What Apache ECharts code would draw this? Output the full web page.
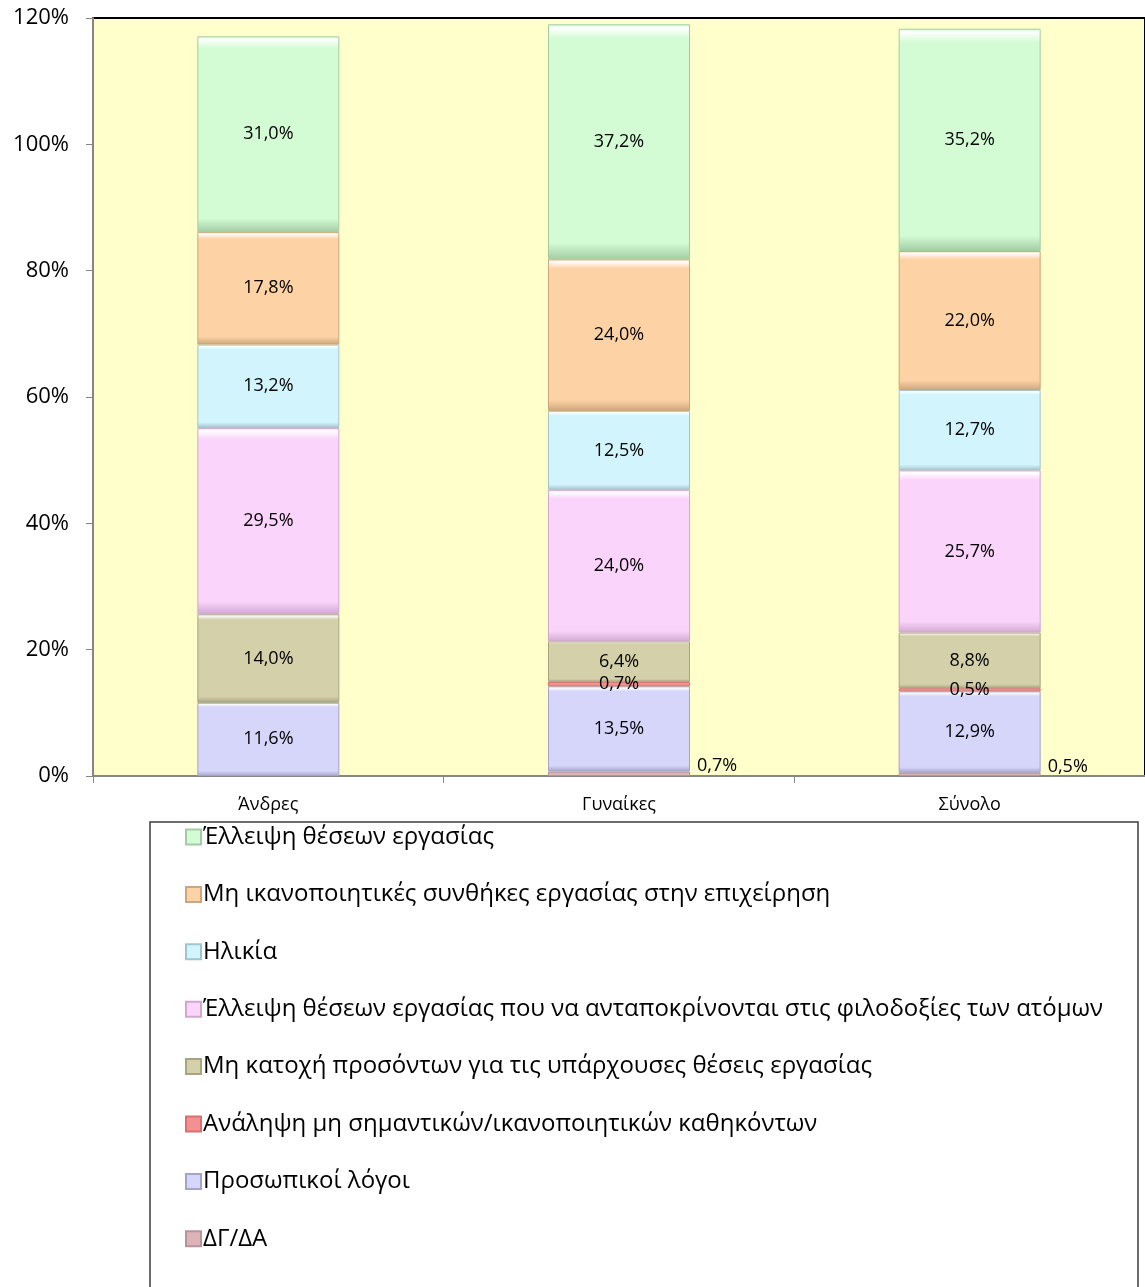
<!DOCTYPE html>
<html>
<head>
<meta charset="utf-8">
<script src="https://cdn.jsdelivr.net/npm/echarts@6/dist/echarts.min.js"></script>
<style>
  html, body { margin: 0; padding: 0; background: #fff; }
  #main { width: 1145px; height: 1287px; }
</style>
</head>
<body>
<div id="main"></div>
<script>
// categories and series, listed bottom of the stack to top
var categories = ['Άνδρες', 'Γυναίκες', 'Σύνολο'];

var dgda = [null, 0.7, 0.5];            // ΔΓ/ΔΑ
var personal = [11.6, 13.5, 12.9];      // Προσωπικοί λόγοι
var minorDuties = [null, 0.7, 0.5];     // Ανάληψη μη σημαντικών/ικανοποιητικών καθηκόντων
var noQualif = [14.0, 6.4, 8.8];        // Μη κατοχή προσόντων
var noAmbition = [29.5, 24.0, 25.7];    // Έλλειψη θέσεων ... φιλοδοξίες
var age = [13.2, 12.5, 12.7];           // Ηλικία
var badConditions = [17.8, 24.0, 22.0]; // Μη ικανοποιητικές συνθήκες
var noJobs = [31.0, 37.2, 35.2];        // Έλλειψη θέσεων εργασίας

var yTicks = [0, 20, 40, 60, 80, 100, 120];

var FONT = '"Open Sans", "Noto Sans", sans-serif';

// bevel-ish look: white highlight at the top, slightly darker band at the bottom
function bevel(base, dark) {
    return new echarts.graphic.LinearGradient(0, 0, 0, 1, [
        { offset: 0, color: base },
        { offset: 0.015, color: '#ffffff' },
        { offset: 0.06, color: base },
        { offset: 0.93, color: base },
        { offset: 1, color: dark }
    ]);
}

function fmt(p) {
    return p.value.toFixed(1).replace('.', ',') + '%';
}

var defs = [
    { name: 'ΔΓ/ΔΑ', data: dgda, color: '#dcb4b8', dark: '#b8949a', pos: 'right' },
    { name: 'Προσωπικοί λόγοι', data: personal, color: '#d6d6fb', dark: '#a4a4c8' },
    { name: 'Ανάληψη μη σημαντικών/ικανοποιητικών καθηκόντων', data: minorDuties, color: '#f49090', dark: '#d87070' },
    { name: 'Μη κατοχή προσόντων για τις υπάρχουσες θέσεις εργασίας', data: noQualif, color: '#d4d0aa', dark: '#a8a480' },
    { name: 'Έλλειψη θέσεων εργασίας που να ανταποκρίνονται στις φιλοδοξίες των ατόμων', data: noAmbition, color: '#fbd4fb', dark: '#d0a8d0' },
    { name: 'Ηλικία', data: age, color: '#d2f4fc', dark: '#a4c4cc' },
    { name: 'Μη ικανοποιητικές συνθήκες εργασίας στην επιχείρηση', data: badConditions, color: '#fdd2a4', dark: '#cca67c' },
    { name: 'Έλλειψη θέσεων εργασίας', data: noJobs, color: '#d4fcd4', dark: '#a4cca4' }
];

var series = defs.map(function (d) {
    var label = {
        show: true,
        position: 'inside',
        color: '#000',
        fontFamily: FONT,
        fontSize: 18,
        formatter: fmt
    };
    if (d.pos === 'right') {
        label.position = 'right';
        label.offset = [2, -8];
    }
    return {
        name: d.name,
        type: 'bar',
        stack: 'total',
        barWidth: 142,
        data: d.data,
        color: d.color,
        itemStyle: {
            color: bevel(d.color, d.dark),
            borderColor: d.dark,
            borderWidth: 1
        },
        label: label
    };
});

var chart = echarts.init(document.getElementById('main'));

var option = {
    animation: false,
    backgroundColor: '#ffffff',
    grid: {
        left: 93,
        top: 18,
        width: 1062,
        height: 758,
        show: true,
        backgroundColor: '#ffffcc',
        borderColor: '#000000',
        borderWidth: 2
    },
    xAxis: {
        type: 'category',
        data: categories,
        axisLine: { lineStyle: { color: '#868686', width: 2 } },
        axisTick: { show: true, length: 7, lineStyle: { color: '#868686' } },
        axisLabel: { color: '#000', fontFamily: FONT, fontSize: 18, margin: 20 }
    },
    yAxis: {
        type: 'value',
        min: yTicks[0],
        max: yTicks[yTicks.length - 1],
        interval: 20,
        splitLine: { show: false },
        axisLine: { show: true, lineStyle: { color: '#868686', width: 2 } },
        axisTick: { show: true, length: 7, lineStyle: { color: '#868686' } },
        axisLabel: {
            color: '#000',
            fontFamily: FONT,
            fontSize: 22,
            margin: 24,
            formatter: '{value}%'
        }
    },
    legend: {
        orient: 'vertical',
        left: 185,
        top: 823,
        padding: 0,
        itemGap: 29.4,
        itemWidth: 15,
        itemHeight: 15,
        icon: 'rect',
        data: defs.map(function (d) { return d.name; }).reverse(),
        textStyle: { color: '#000', fontFamily: FONT, fontSize: 24, lineHeight: 28, padding: [0, 0, 0, -3] }
    },
    graphic: [{
        type: 'rect',
        z: -1,
        shape: { x: 150, y: 822, width: 988, height: 480 },
        style: { fill: '#ffffff', stroke: '#3c3c3c', lineWidth: 1.5 }
    }],
    series: series
};

chart.setOption(option);
</script>
</body>
</html>
